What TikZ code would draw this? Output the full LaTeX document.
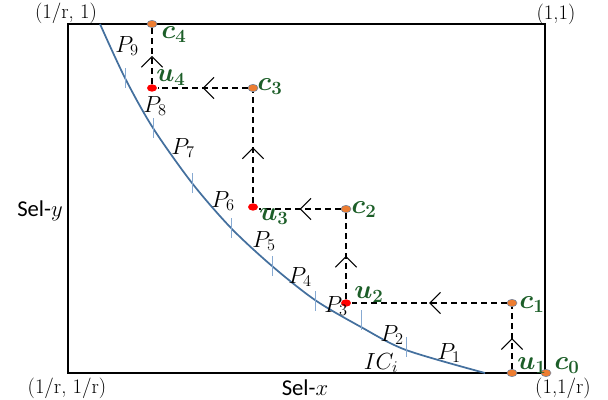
\RequirePackage{fix-cm}
\documentclass[tikz,border=0pt]{standalone}
\usepackage{fontspec}
\usepackage{amsmath}
\usepackage{bm}
\usetikzlibrary{arrows.meta,decorations.markings,shapes.geometric,positioning}
\newfontfamily\selfont{Carlito}

\definecolor{icblue}{RGB}{68,112,158}
\definecolor{tickblue}{RGB}{135,170,210}
\definecolor{dotorange}{RGB}{237,125,49}
\definecolor{labgreen}{RGB}{28,94,40}

\tikzset{every picture/.style={line width=0.75pt}}
\tikzset{
  cdot/.style={ellipse,draw={rgb,255:red,110;green,130;blue,160},line width=0.4pt,fill=dotorange,minimum width=7.5pt,minimum height=5.5pt,inner sep=0pt},
  udot/.style={ellipse,fill=red,minimum width=7.5pt,minimum height=5.5pt,inner sep=0pt},
  ptlab/.style={text=labgreen,font=\fontsize{20}{22}\selectfont,inner sep=0pt},
  seglab/.style={font=\fontsize{17.5}{19}\selectfont,inner sep=0pt},
  cornerlab/.style={font=\fontsize{15.5}{17}\selectfont,inner sep=0pt},
  axislab/.style={font=\fontsize{17}{19}\selfont,inner sep=0pt},
  steplink/.style={dash pattern={on 4.5pt off 3pt},line width=0.8pt,
    postaction={decorate},
    decoration={markings,mark=at position 0.5 with {\arrow[line width=0.8pt]{Straight Barb[length=8pt,width=16pt]}}}},
  icmark/.style={draw=tickblue,line width=0.7pt}
}

\begin{document}
\begin{tikzpicture}[x=0.75pt,y=0.75pt,yscale=-1,xscale=1]
\useasboundingbox (0,0) rectangle (608,400);

%Shape: Rectangle [id:box]
\draw [line width=1pt] (68,24) -- (545,24) -- (545,373) -- (68,373) -- cycle ;

%Curve Lines [id:ic]
\draw [icblue,line width=1.3pt] plot[smooth] coordinates {(100,24) (125,78) (153,128) (192,183) (231,228) (272,266) (315,300) (361,327) (406,350) (485,373)} ;

%Straight Lines [id:ticks]
\foreach \tx/\ty in {125/78,153/128,192/183,231/228,272/266,315/301,361/320,406/347}
  \draw [icmark] (\tx,{\ty-10}) -- (\tx,{\ty+10}) ;

%Shape: Ellipse [id:dots]
\node [cdot] (c0) at (546,373) {};
\node [cdot] (u1) at (512,373) {};
\node [cdot] (c1) at (512,303) {};
\node [udot] (u2) at (346,303) {};
\node [cdot] (c2) at (346,209) {};
\node [udot] (u3) at (253,207) {};
\node [cdot] (c3) at (253,88) {};
\node [udot] (u4) at (152,88) {};
\node [cdot] (c4) at (152,24) {};

%Straight Lines [id:steps]
\draw [steplink] (u1) -- (c1) ;
\draw [steplink] (c1) -- (u2) ;
\draw [steplink] (u2) -- (c2) ;
\draw [steplink] (c2) -- (u3.east |- c2) ;
\draw [steplink] (u3) -- (c3) ;
\draw [steplink] (c3) -- (u4) ;
\draw [steplink] (u4) -- (c4) ;

% Text Node
\node [ptlab] at ([shift={(21,-7)}]c0) {$\bm{c_0}$};
\node [ptlab] at ([shift={(20,-7)}]u1) {$\bm{u_1}$};
\node [ptlab] at ([shift={(20,2)}]c1) {$\bm{c_1}$};
\node [ptlab] at ([shift={(23,-8)}]u2) {$\bm{u_2}$};
\node [ptlab] at ([shift={(18,1)}]c2) {$\bm{c_2}$};
\node [ptlab] at ([shift={(21,10)}]u3) {$\bm{u_3}$};
\node [ptlab] at ([shift={(17,-1)}]c3) {$\bm{c_3}$};
\node [ptlab] at ([shift={(19,-10)}]u4) {$\bm{u_4}$};
\node [ptlab] at ([shift={(22,11)}]c4) {$\bm{c_4}$};

% Text Node
\node [seglab] (p9) at (127,46) {$P_9$};
\node [seglab] (p8) at (155,106) {$P_8$};
\node [seglab] (p7) at (183,148) {$P_7$};
\node [seglab] (p6) at (223,201) {$P_6$};
\node [seglab] (p5) at (264,241) {$P_5$};
\node [seglab] (p4) at (300,277) {$P_4$};
\node [seglab] (p3) at (336,306) {$P_3$};
\node [seglab] (p2) at (392,335) {$P_2$};
\node [seglab] (p1) at (449,353) {$P_1$};
\node [seglab] (ic) at (381,363) {$IC_i$};

% Text Node
\node [cornerlab] (tl) at (66,13) {(1/r, 1)};
\node [cornerlab] (tr) at (556,14) {(1,1)};
\node [cornerlab] (bl) at (67,388) {(1/r, 1/r)};
\node [cornerlab] (br) at (563,388) {(1,1/r)};
\node [axislab] (selx) at (305,388) {Sel-$x$};
\node [axislab] (sely) at (40,211) {Sel-$y$};

\end{tikzpicture}
\end{document}
